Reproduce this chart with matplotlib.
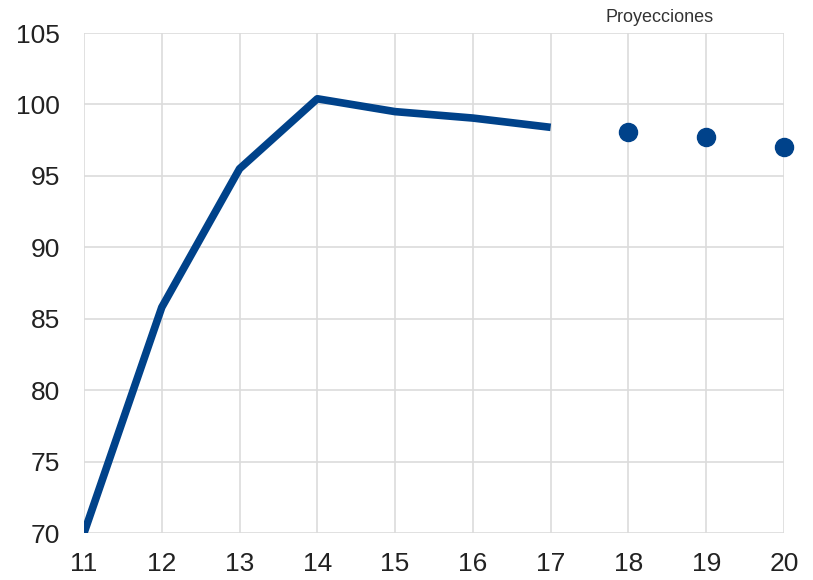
import matplotlib
matplotlib.use("Agg")
import matplotlib.pyplot as plt

plt.rcParams['font.family'] = ['Liberation Sans', 'DejaVu Sans']

years_hist = [11, 12, 13, 14, 15, 16, 17]
values_hist = [70.0, 85.8, 95.5, 100.4, 99.5, 99.05, 98.4]
years_proj = [18, 19, 20]
values_proj = [98.1, 97.7, 97.0]
xticks = list(range(11, 21))
yticks = [70, 75, 80, 85, 90, 95, 100, 105]
color = '#00428a'

fig = plt.figure(figsize=(8.13, 5.8), dpi=100)
ax = fig.add_axes([0.1033, 0.081, 0.861, 0.862])
ax.plot(years_hist, values_hist, color=color, lw=5.5, solid_capstyle='butt', zorder=3)
ax.plot(years_proj, values_proj, 'o', color=color, ms=13, zorder=3, clip_on=False)
ax.set_xlim(11, 20)
ax.set_ylim(70, 105)
ax.set_xticks(xticks)
ax.set_yticks(yticks)
ax.grid(True, color='#dcdcdc', lw=1.2)
ax.set_axisbelow(True)
for s in ax.spines.values():
    s.set_visible(False)
ax.tick_params(length=0, labelsize=19, colors='#222222')
ax.tick_params(axis='x', pad=14)
ax.tick_params(axis='y', pad=17)
ax.text(18.4, 106.1, 'Proyecciones', ha='center', va='center', fontsize=13, color='#333333')
fig.savefig('out.png', dpi=100)
